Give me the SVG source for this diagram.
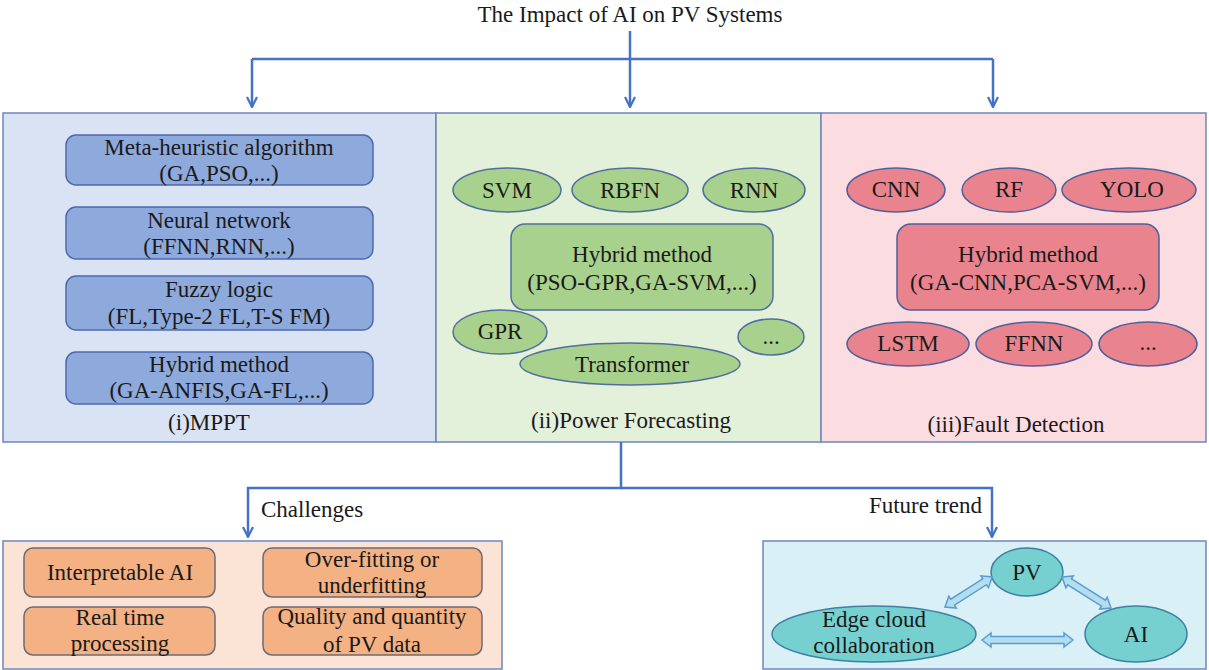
<svg xmlns="http://www.w3.org/2000/svg" width="1209" height="670" viewBox="0 0 1209 670" font-family="'Liberation Serif', 'Times New Roman', 'DejaVu Serif', serif">
<style>
text{font-family:'Liberation Serif','Times New Roman','DejaVu Serif',serif;fill:#1a1a1a;text-anchor:middle}
.t22{font-size:23px}
.t21{font-size:23px}
.panel{stroke:#6f86b8;stroke-width:1.5}
.mppt{fill:#8eaadc;stroke:#4d69ad;stroke-width:1.5}
.grn{fill:#a9d18e;stroke:#4f6f9c;stroke-width:1.5}
.pnk{fill:#e9848f;stroke:#4f5f9c;stroke-width:1.5}
.org{fill:#f4b183;stroke:#6b6b78;stroke-width:1.5}
.cyn{fill:#76d0d0;stroke:#3f7fa4;stroke-width:1.5}
.conn{fill:none;stroke:#4472c4;stroke-width:2.5}
.blk{fill:#b3deee;stroke:#5b9bd5;stroke-width:1.5}
</style>
<defs>
<marker id="arr" viewBox="0 0 12 12" refX="11" refY="6" markerWidth="12" markerHeight="12" markerUnits="userSpaceOnUse" orient="auto">
<path d="M1,1 L11,6 L1,11" fill="none" stroke="#4472c4" stroke-width="2.2"/>
</marker>
</defs>
<rect width="1209" height="670" fill="#ffffff"/>
<text class="t22" x="630" y="22">The Impact of AI on PV Systems</text>

<g id="panel-mppt">
<rect class="panel" x="3" y="113" width="433" height="329" fill="#dae3f4"/>
<rect class="mppt" x="66" y="135" width="307" height="50" rx="10"/>
<text class="t22" x="219" y="155">Meta-heuristic algorithm</text>
<text class="t22" x="219" y="181">(GA,PSO,...)</text>
<rect class="mppt" x="66" y="207" width="307" height="52" rx="10"/>
<text class="t22" x="219" y="228">Neural network</text>
<text class="t22" x="219" y="254">(FFNN,RNN,...)</text>
<rect class="mppt" x="66" y="276" width="307" height="54" rx="10"/>
<text class="t22" x="219" y="297">Fuzzy logic</text>
<text class="t22" x="219" y="324">(FL,Type-2 FL,T-S FM)</text>
<rect class="mppt" x="66" y="352" width="307" height="52" rx="10"/>
<text class="t22" x="219" y="372">Hybrid method</text>
<text class="t22" x="219" y="398">(GA-ANFIS,GA-FL,...)</text>
<text class="t21" x="209" y="430">(i)MPPT</text>
</g>

<g id="panel-forecast">
<rect class="panel" x="436" y="113" width="385" height="329" fill="#e3f0da"/>
<ellipse class="grn" cx="507" cy="190" rx="54" ry="22"/>
<text class="t22" x="507" y="198">SVM</text>
<ellipse class="grn" cx="630" cy="190" rx="58" ry="22"/>
<text class="t22" x="630" y="198">RBFN</text>
<ellipse class="grn" cx="754" cy="190" rx="51" ry="22"/>
<text class="t22" x="754" y="198">RNN</text>
<rect class="grn" x="511" y="224" width="262" height="86" rx="14"/>
<text class="t22" x="642" y="262">Hybrid method</text>
<text class="t22" x="642" y="290">(PSO-GPR,GA-SVM,...)</text>
<ellipse class="grn" cx="500" cy="332" rx="47" ry="22"/>
<text class="t22" x="500" y="339">GPR</text>
<ellipse class="grn" cx="771" cy="337" rx="33" ry="18"/>
<text class="t21" x="771" y="344">...</text>
<ellipse class="grn" cx="630" cy="364" rx="110" ry="21"/>
<text class="t22" x="632" y="372">Transformer</text>
<text class="t21" x="631" y="428">(ii)Power Forecasting</text>
</g>

<g id="panel-fault">
<rect class="panel" x="821" y="113" width="385" height="329" fill="#fbdce1"/>
<ellipse class="pnk" cx="896" cy="190" rx="49" ry="22"/>
<text class="t22" x="896" y="197">CNN</text>
<ellipse class="pnk" cx="1009" cy="190" rx="47" ry="22"/>
<text class="t22" x="1009" y="197">RF</text>
<ellipse class="pnk" cx="1129" cy="190" rx="67" ry="22"/>
<text class="t22" x="1132" y="197">YOLO</text>
<rect class="pnk" x="897" y="224" width="262" height="86" rx="14"/>
<text class="t22" x="1028" y="262">Hybrid method</text>
<text class="t22" x="1028" y="290">(GA-CNN,PCA-SVM,...)</text>
<ellipse class="pnk" cx="908" cy="344" rx="61" ry="22"/>
<text class="t22" x="908" y="351">LSTM</text>
<ellipse class="pnk" cx="1034" cy="344" rx="58" ry="22"/>
<text class="t22" x="1034" y="351">FFNN</text>
<ellipse class="pnk" cx="1148" cy="344" rx="49" ry="22"/>
<text class="t21" x="1148" y="350">...</text>
<text class="t21" x="1016" y="432">(iii)Fault Detection</text>
</g>

<g id="connectors">
<path class="conn" d="M630,31 V107" marker-end="url(#arr)"/>
<path class="conn" d="M252,59 H993"/>
<path class="conn" d="M252,59 V107" marker-end="url(#arr)"/>
<path class="conn" d="M993,59 V107" marker-end="url(#arr)"/>
<path class="conn" d="M621,442 V488 H248 V537" marker-end="url(#arr)"/>
<path class="conn" d="M621,488 H992 V537" marker-end="url(#arr)"/>
</g>
<text class="t21" x="261" y="517" style="text-anchor:start">Challenges</text>
<text class="t21" x="982" y="513" style="text-anchor:end">Future trend</text>

<g id="challenges">
<rect x="3" y="541" width="499" height="128" fill="#fbe4d5" stroke="#6f86b8" stroke-width="1.5"/>
<rect class="org" x="24" y="548" width="191" height="49" rx="9"/>
<text class="t22" x="120" y="580">Interpretable AI</text>
<rect class="org" x="24" y="607" width="191" height="48" rx="9"/>
<text class="t22" x="120" y="625">Real time</text>
<text class="t22" x="120" y="651">processing</text>
<rect class="org" x="263" y="548" width="219" height="49" rx="9"/>
<text class="t22" x="372" y="567">Over-fitting or</text>
<text class="t22" x="372" y="593">underfitting</text>
<rect class="org" x="263" y="607" width="219" height="48" rx="9"/>
<text class="t22" x="372" y="624">Quality and quantity</text>
<text class="t22" x="372" y="652">of PV data</text>
</g>

<g id="future">
<rect x="763" y="541" width="443" height="128" fill="#d8f0f6" stroke="#6f86b8" stroke-width="1.5"/>
<ellipse class="cyn" cx="1027" cy="572" rx="36" ry="24"/>
<text class="t22" x="1027" y="580">PV</text>
<ellipse class="cyn" cx="874" cy="634" rx="102" ry="28"/>
<text class="t22" x="874" y="627">Edge cloud</text>
<text class="t22" x="874" y="653">collaboration</text>
<ellipse class="cyn" cx="1136" cy="634" rx="51" ry="28"/>
<text class="t22" x="1136" y="642">AI</text>
<path class="blk" transform="translate(945,607) rotate(-32.5)" d="M0,0 L9,-7 L9,-3.5 L47,-3.5 L47,-7 L56,0 L47,7 L47,3.5 L9,3.5 L9,7 Z"/>
<path class="blk" transform="translate(1062,577) rotate(32.3)" d="M0,0 L9,-7 L9,-3.5 L49,-3.5 L49,-7 L58,0 L49,7 L49,3.5 L9,3.5 L9,7 Z"/>
<path class="blk" transform="translate(982,640)" d="M0,0 L9,-7 L9,-3.5 L82,-3.5 L82,-7 L91,0 L82,7 L82,3.5 L9,3.5 L9,7 Z"/>
</g>
</svg>
